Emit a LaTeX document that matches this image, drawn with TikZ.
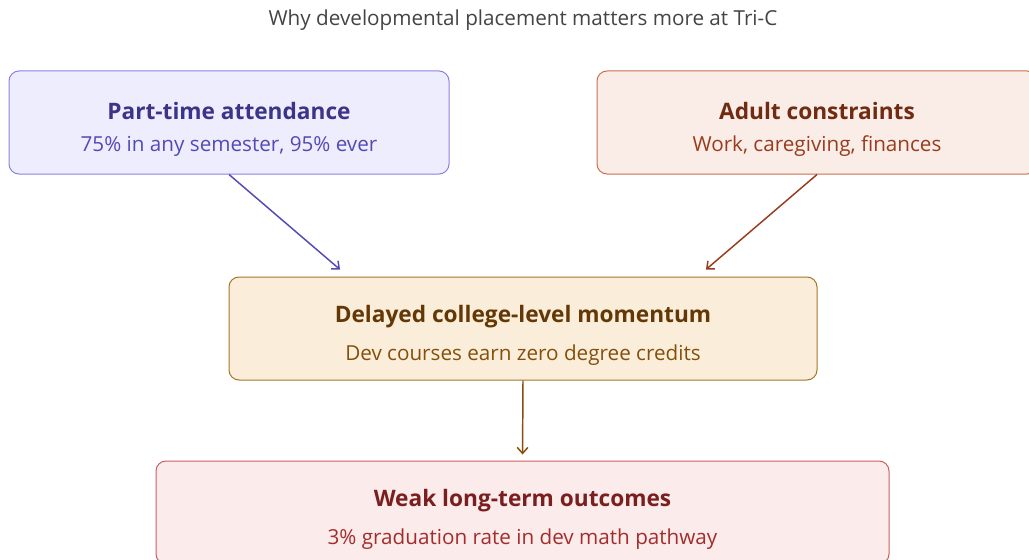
\documentclass[tikz,border=0pt]{standalone}
\usepackage{fontspec}
\setmainfont{Open Sans}
\usepackage{xcolor}
\usepackage{tikz}
\usetikzlibrary{arrows.meta, calc}
\definecolor{cPurpleFill}{HTML}{EEEDFE}
\definecolor{cPurpleLine}{HTML}{8A82DE}
\definecolor{cPurpleHead}{HTML}{3C3489}
\definecolor{cPurpleText}{HTML}{534AB7}
\definecolor{cCoralFill}{HTML}{FAECE7}
\definecolor{cCoralLine}{HTML}{C8714F}
\definecolor{cCoralHead}{HTML}{712B13}
\definecolor{cCoralText}{HTML}{993C1D}
\definecolor{cAmberFill}{HTML}{FAEEDA}
\definecolor{cAmberLine}{HTML}{A8742A}
\definecolor{cAmberHead}{HTML}{633806}
\definecolor{cAmberText}{HTML}{854F0B}
\definecolor{cRedFill}{HTML}{FCEBEB}
\definecolor{cRedLine}{HTML}{C9605F}
\definecolor{cRedHead}{HTML}{791F1F}
\definecolor{cRedText}{HTML}{A32D2D}
\definecolor{cGray}{HTML}{444444}
% heading + one line of detail inside a box (strut keeps the pair a bit low)
\newcommand{\boxtext}[3]{%
  {\fontsize{17}{20}\selectfont\bfseries\color{#1Head}\rule{0pt}{23pt}#2}\\[11.5pt]%
  {\fontsize{15.5}{18}\selectfont\color{#1Text}#3}}

\begin{document}
\begin{tikzpicture}[
    x=0.75pt, y=-0.75pt,
    block/.style={draw=#1Line, fill=#1Fill, line width=0.75pt,
                  rounded corners=7.5pt, minimum width=330pt,
                  minimum height=77.25pt, align=center},
    arr/.style={-{Straight Barb[length=4.5pt, width=8pt]}, line width=1.1pt, draw=#1},
    ttl/.style={font=\fontsize{15.5}{18}\selectfont, text=cGray},
  ]
  \useasboundingbox (0,0) rectangle (1029,560);

  % ── TITLE ──
  \node[ttl] (title) at (523,20) {Why developmental placement matters more at Tri-C};

  % ── CAUSES ──
  \node[block=cPurple] (part) at (229,122.5)
    {\boxtext{cPurple}{Part-time attendance}{75\% in any semester, 95\% ever}};
  \node[block=cCoral] (adult) at (817,122.5)
    {\boxtext{cCoral}{Adult constraints}{Work, caregiving, finances}};

  % ── MOMENTUM ──
  \node[block=cAmber, minimum width=441pt] (delay) at (523,328.5)
    {\boxtext{cAmber}{Delayed college-level momentum}{Dev courses earn zero degree credits}};

  % ── OUTCOME ──
  \node[block=cRed, minimum width=549.75pt] (weak) at (522.5,512.5)
    {\boxtext{cRed}{Weak long-term outcomes}{3\% graduation rate in dev math pathway}};

  % arrow ends just above the middle box
  \coordinate (inL) at ($(delay.north)+(-183,-7)$);
  \coordinate (inR) at ($(delay.north)+(183,-7)$);

  \draw[arr=cPurpleText] (part.south) -- (inL);
  \draw[arr=cCoralText] (adult.south) -- (inR);
  \draw[arr=cAmberText, shorten >=4.5pt] (delay.south) -- (weak.north);
\end{tikzpicture}
\end{document}
